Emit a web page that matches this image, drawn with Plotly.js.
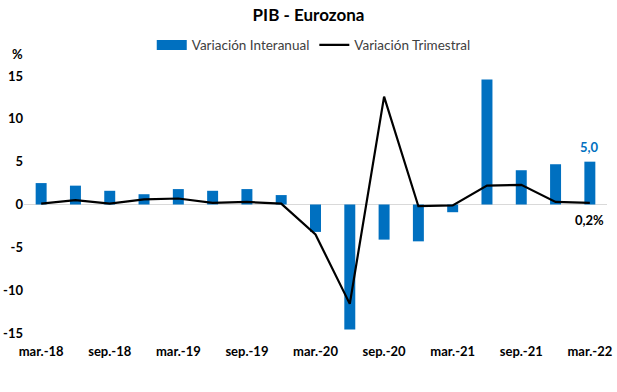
<!DOCTYPE html>
<html>
<head>
<meta charset="utf-8">
<script src="https://cdn.plot.ly/plotly-3.0.1.min.js"></script>
<style>html,body{margin:0;padding:0;background:#fff;}#chart{width:617px;height:392px;}</style>
</head>
<body>
<div id="chart"></div>
<script>
const categories = ["mar.-18","jun.-18","sep.-18","dic.-18","mar.-19","jun.-19","sep.-19","dic.-19","mar.-20","jun.-20","sep.-20","dic.-20","mar.-21","jun.-21","sep.-21","dic.-21","mar.-22"];
const interanual = [2.5, 2.2, 1.6, 1.2, 1.8, 1.6, 1.8, 1.1, -3.2, -14.6, -4.1, -4.3, -0.9, 14.6, 4.0, 4.7, 5.0];
const trimestral = [0.1, 0.5, 0.1, 0.6, 0.7, 0.2, 0.3, 0.1, -3.5, -11.6, 12.6, -0.2, -0.1, 2.2, 2.3, 0.3, 0.2];
const tickLabels = ["mar.-18","sep.-18","mar.-19","sep.-19","mar.-20","sep.-20","mar.-21","sep.-21","mar.-22"];
const yTicks = [-15, -10, -5, 0, 5, 10, 15];

const FONT = "Lato, 'Open Sans', sans-serif";
const BLUE = "#0070C0";
const last = categories.length - 1;
const fmt = v => v.toFixed(1).replace('.', ',');

const traces = [
  {
    type: 'bar', name: 'Variación Interanual',
    x: categories, y: interanual,
    marker: {color: BLUE}, width: 0.32, showlegend: false
  },
  {
    // legend entry for the bars (wide rectangle symbol like the original)
    type: 'scatter', mode: 'lines', name: 'Variación Interanual',
    x: [null], y: [null],
    line: {color: BLUE, width: 10}, hoverinfo: 'skip'
  },
  {
    type: 'scatter', mode: 'lines', name: 'Variación Trimestral',
    x: categories, y: trimestral,
    line: {color: '#000000', width: 2.2}
  }
];

const layout = {
  width: 617, height: 392,
  margin: {l: 24, r: 10, t: 76, b: 59},
  paper_bgcolor: '#ffffff', plot_bgcolor: '#ffffff',
  font: {family: FONT, color: '#000'},
  showlegend: true,
  title: {text: '<b>PIB - Eurozona</b>', x: 0.5, xanchor: 'center', y: 0.962, yanchor: 'middle', yref: 'container', font: {family: FONT, size: 17, color: '#000'}},
  legend: {orientation: 'h', x: 0.497, xanchor: 'center', y: 1.12, yanchor: 'middle', font: {family: FONT, size: 13.5, color: '#404040'}, itemwidth: 30, traceorder: 'normal'},
  bargap: 0.6,
  xaxis: {
    type: 'category', categoryorder: 'array', categoryarray: categories,
    range: [-0.5, categories.length - 0.5],
    tickmode: 'array', tickvals: tickLabels, ticktext: tickLabels.map(t => '<b>' + t + '</b>'),
    tickfont: {family: FONT, size: 13, color: '#000'},
    showgrid: false, showline: false, zeroline: false, ticks: '', ticklabelstandoff: 9
  },
  yaxis: {
    range: [-15, 15], tickmode: 'array', tickvals: yTicks, ticktext: yTicks.map(v => '<b>' + v + '</b>'),
    tickfont: {family: FONT, size: 13, color: '#000'},
    showgrid: false, showline: false, zeroline: true, zerolinecolor: '#d9d9d9', zerolinewidth: 1, ticks: ''
  },
  annotations: [
    {text: '<b>%</b>', xref: 'paper', yref: 'paper', x: -0.012, y: 1.085, xanchor: 'center', yanchor: 'middle', showarrow: false, font: {family: FONT, size: 13, color: '#000'}},
    {text: '<b>' + fmt(interanual[last]) + '</b>', x: categories[last], y: interanual[last], xref: 'x', yref: 'y', yanchor: 'bottom', yshift: 5, showarrow: false, font: {family: FONT, size: 13, color: BLUE}},
    {text: '<b>' + fmt(trimestral[last]) + '%</b>', x: categories[last], y: trimestral[last], xref: 'x', yref: 'y', yanchor: 'top', yshift: -7, showarrow: false, font: {family: FONT, size: 13, color: '#000'}}
  ]
};

Plotly.newPlot('chart', traces, layout, {displayModeBar: false, staticPlot: true});
</script>
</body>
</html>
